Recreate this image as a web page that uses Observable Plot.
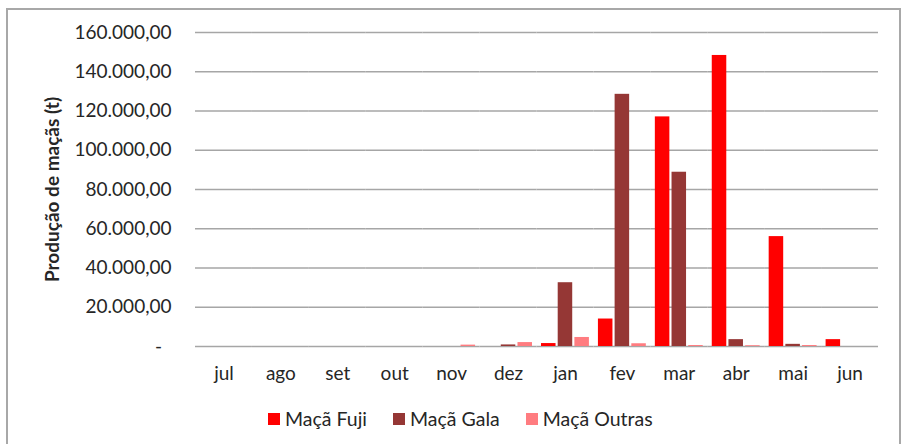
<!DOCTYPE html>
<html><head><meta charset="utf-8">
<script src="https://cdn.jsdelivr.net/npm/d3@7"></script>
<script src="https://cdn.jsdelivr.net/npm/@observablehq/plot@0.6"></script>
<style>
body{margin:0;background:#fff;font-family:Lato,sans-serif;width:903px;height:444px;overflow:hidden;position:relative;}
#frame{position:absolute;left:6px;top:8px;width:895px;height:460px;border:2px solid #a8a8a8;box-sizing:border-box;}
#chart{position:absolute;left:0;top:0;}
#legend{position:absolute;top:408px;left:268px;display:flex;align-items:center;font-size:19.5px;color:#262626;line-height:22px;}
#legend .item{display:flex;align-items:center;margin-right:26px;}
#legend .sw{width:12px;height:12px;margin-right:5px;}
#chart svg [aria-label="y-axis label"] text, #chart svg [aria-label="y-axis"] > text{font-weight:bold;font-size:19px;}
</style>
</head><body>
<div id="frame"></div>
<div id="chart"></div>
<div id="legend"></div>
<script>
const months = ["jul","ago","set","out","nov","dez","jan","fev","mar","abr","mai","jun"];
const series = ["Maçã Fuji","Maçã Gala","Maçã Outras"];
const fuji   = [0,0,0,0,0,0,1500,14000,117000,148300,56000,3500];
const gala   = [0,0,0,0,0,800,32500,128500,88800,3500,1100,0];
const outras = [0,0,0,0,700,2000,4600,1400,500,400,500,0];
const colors = ["#ff0000","#953735","#ff7c80"];
const yTicks = [0,20000,40000,60000,80000,100000,120000,140000,160000];
const yLabel = "Produção de maçãs (t)";

const values = [fuji, gala, outras];
const data = [];
months.forEach((m, i) => series.forEach((s, j) => data.push({month: m, series: s, value: values[j][i]})));

const loc = d3.formatLocale({decimal: ",", thousands: ".", grouping: [3], currency: ["", ""]});
const fmt = loc.format(",.2f");

const chart = Plot.plot({
  width: 903, height: 395,
  marginLeft: 195, marginRight: 25, marginTop: 32, marginBottom: 49,
  style: {fontFamily: "Lato, sans-serif", fontSize: "19px", color: "#262626", background: "transparent"},
  fx: {domain: months, paddingInner: 0, paddingOuter: 0, round: false, label: null, tickSize: 0, tickPadding: 20},
  x: {domain: series, paddingInner: 0.13, paddingOuter: 0.27, round: false, axis: null},
  y: {domain: [0, 160000], ticks: yTicks, tickFormat: d => d === 0 ? "-\u2002" : fmt(d), tickSize: 0, tickPadding: 24,
      label: yLabel, labelAnchor: "center", labelArrow: "none", labelOffset: 150},
  color: {domain: series, range: colors},
  marks: [
    Plot.ruleY(yTicks, {stroke: "#a6a6a6", strokeWidth: 1.3}),
    Plot.barY(data, {fx: "month", x: "series", y: "value", fill: "series"})
  ]
});
document.getElementById("chart").appendChild(chart);

const lg = document.getElementById("legend");
series.forEach((s, i) => {
  const it = document.createElement("div"); it.className = "item";
  const sw = document.createElement("span"); sw.className = "sw"; sw.style.background = colors[i];
  const tx = document.createElement("span"); tx.textContent = s;
  it.appendChild(sw); it.appendChild(tx); lg.appendChild(it);
});
</script>
</body></html>
